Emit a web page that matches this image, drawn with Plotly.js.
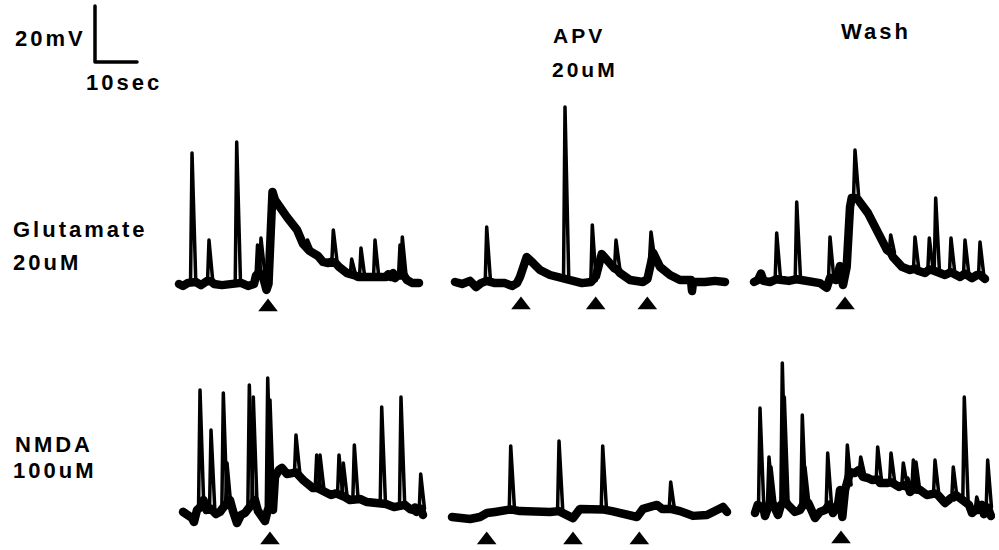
<!DOCTYPE html>
<html><head><meta charset="utf-8">
<script src="https://cdn.plot.ly/plotly-3.0.1.min.js"></script>
<style>
body{margin:0;background:#fff}
#chart{width:999px;height:550px}
.annotation-text{letter-spacing:3px}
.js-line{stroke-linejoin:round;stroke-linecap:round}
</style>
</head><body><div id="chart"></div>
<script>
// ---------- data: time (s) and membrane potential (mV, relative to rest) ----------
// Each recording = slow membrane potential (T, V) + action potentials (spike time, peak, base)

// Glutamate 20uM, control
const glutCtrlT = [0,0.95,2.14,3.1,4.05,5.24,6.67,7.62,8.33,10.24,
  12.14,13.33,14.17,14.76,16.43,17.86,18.33,19.05,20.0,20.83,
  21.31,21.79,22.26,22.86,23.81,25.71,28.10,29.52,31.07,31.9,
  33.1,34.29,35.48,36.31,37.26,38.1,40.0,41.67,42.62,43.93,
  45.95,48.1,49.29,49.83,50.36,50.95,51.43,52.14,53.57,54.29,
  55.48,57.14];
const glutCtrlV = [0,-0.7,0.4,0.7,0.7,-0.4,1.1,1.0,0,-0.4,
  0,0.7,1.0,0.4,-0.7,0,3.0,4.0,2.5,-2.1,
  0,24.6,32.9,30.0,27.5,23.9,19.3,14.3,11.8,11.1,
  10.0,7.9,7.5,8.0,7.5,6.1,3.9,3.2,2.5,2.5,
  2.5,2.5,2.5,3.5,2.5,3.9,2.1,3.0,3.0,1.4,
  0.4,0.4];
const glutCtrlSpikeT    = [3.10,7.14,13.74,18.69,19.52,30.6,36.74,41.12,43.33,46.67,52.62,53.17];
const glutCtrlSpikePeak = [46.8,15.7,50.7,13.9,16.4,15.7,19.3,8.9,12.9,15.7,13.9,16.8];
const glutCtrlSpikeBase = [0.7,1.0,0.7,3.0,4.0,12.5,8.0,3.5,2.5,2.5,3.0,3.0];
const glutCtrlStim = [21.2];

// Glutamate 20uM, with APV 20uM
const glutApvT = [0,1.67,3.57,5.0,6.19,7.55,9.52,11.9,13.57,14.76,
  15.48,17.07,18.57,20.24,22.62,24.29,26.19,28.1,30.24,32.38,
  33.0,33.57,34.93,36.43,37.86,38.69,39.29,41.67,44.76,45.83,
  46.55,47.2,48.81,51.19,53.57,55.24,56.19,56.43,56.67,59.52,
  61.9,64.29];
const glutApvV = [0,-0.7,0.4,-1.8,-0.4,0.4,-0.4,-0.4,-1.4,-0.4,
  1.8,8.9,6.8,4.3,2.5,1.8,1.0,0,-0.4,0,
  1.4,2.1,10.0,6.8,5.0,4.3,3.2,0.7,0,1.1,
  7.1,10.4,5.4,2.5,0.7,0.4,0.7,-3.2,0,0,
  0.4,0];
const glutApvSpikeT    = [7.55,26.19,32.69,38.33,46.67];
const glutApvSpikePeak = [19.6,62.5,20.4,15.0,17.9];
const glutApvSpikeBase = [0.4,1.0,0.5,4.8,8.0];
const glutApvStim = [15.71,33.5,45.79];

// Glutamate 20uM, wash
const glutWashT = [0,0.95,1.67,2.26,3.81,5.4,6.67,8.33,10.17,11.43,
  13.33,15.71,17.31,18.1,19.52,20.48,21.19,22.07,22.86,23.26,
  24.05,24.83,27.14,28.81,30.48,31.67,32.55,33.1,35.24,37.14,
  38.33,39.05,40.71,41.74,42.86,43.69,45.48,46.9,47.5,49.05,
  50.24,51.9,53.1,53.81,55.0];
const glutWashV = [0,0.7,3.0,0.4,0,1.0,0.7,0.4,1.0,0.7,
  -0.4,-0.4,-2.1,1.5,0.7,5.7,-1.1,5.4,26.8,30.0,
  30.0,29.3,24.6,19.6,15.0,11.4,10.5,8.9,5.4,4.3,
  4.8,4.0,3.2,4.5,4.0,3.6,2.5,3.5,3.0,1.8,
  3.0,1.4,2.5,2.5,1.1];
const glutWashSpikeT    = [5.4,10.17,18.1,24.05,32.55,38.33,41.74,43.26,46.9,50.24,53.81];
const glutWashSpikePeak = [17.5,28.6,16.1,47.1,16.8,16.1,15.7,30.0,15.7,15.0,14.3];
const glutWashSpikeBase = [1.5,1.5,1.5,30.0,10.5,4.8,4.5,3.8,3.5,3.0,2.5];
const glutWashStim = [21.67];

// NMDA 100uM, control
const nmdaCtrlT = [0,1.19,2.14,2.62,3.33,4.05,4.88,5.6,6.67,7.86,
  8.81,9.6,11.19,11.9,12.86,13.81,14.76,15.79,17.14,17.86,
  18.81,19.52,20.17,21.07,21.43,21.9,22.86,23.57,24.76,25.95,
  26.9,28.57,30.0,30.95,31.83,33.1,33.81,35.24,36.43,37.5,
  38.57,39.76,40.79,42.14,43.81,46.19,47.31,48.33,50.24,51.9,
  52.86,54.05,54.76,55.24,55.6,56.6,57.14];
const nmdaCtrlV = [0.4,-0.4,-1.8,-3.2,1.1,2.0,4.6,1.1,1.5,-0.4,
  0.4,2.0,4.6,0.7,-3.6,-0.7,0,2.0,4.6,0.7,
  -1.4,-2.9,1.0,2.0,1.1,12.9,15.4,16.1,13.9,13.9,
  14.5,11.8,10.4,8.9,9.0,8.0,7.1,6.4,7.0,6.5,
  5.7,4.6,5.0,5.0,3.9,3.6,3.5,3.2,2.1,2.5,
  2.9,1.4,1.1,2.0,0.4,1.5,-0.7];
const nmdaCtrlSpikeT    = [4.05,6.67,9.6,10.48,15.79,16.74,20.17,20.71,26.9,31.83,32.62,37.14,38.17,40.79,47.31,51.9,56.6];
const nmdaCtrlSpikePeak = [43.9,29.6,42.9,17.9,45.7,41.4,48.2,40.4,27.9,20.7,20.7,20.7,17.9,24.3,37.9,41.4,13.9];
const nmdaCtrlSpikeBase = [2.0,1.5,2.0,3.0,2.0,3.0,1.0,2.0,14.5,9.0,9.0,6.5,6.0,5.0,3.5,2.5,1.5];
const nmdaCtrlStim = [20.71];

// NMDA 100uM, with APV 20uM
const nmdaApvT = [0,1.9,4.29,6.67,8.33,10.24,12.62,13.98,16.19,19.76,
  23.33,25.48,27.31,28.81,30.48,32.86,35.88,38.1,41.67,44.05,
  45.48,48.81,50.0,52.07,54.29,57.38,60.71,62.86,64.52,65.48];
const nmdaApvV = [0,-0.4,-0.7,0,1.4,1.8,2.5,2.7,2.1,1.8,
  1.8,2.1,0.7,-0.4,2.9,2.9,2.7,2.1,0.7,0,
  2.9,4.3,2.9,2.9,2.1,0.4,0.7,2.1,3.6,1.8];
const nmdaApvSpikeT    = [13.98,25.48,35.88,52.07];
const nmdaApvSpikePeak = [25.4,27.1,25.4,12.5];
const nmdaApvSpikeBase = [2.7,2.1,2.7,2.9];
const nmdaApvStim = [8.26,28.81,44.6];

// NMDA 100uM, wash
const nmdaWashT = [0,0.64,1.19,1.98,2.38,3.1,3.57,4.36,4.76,5.48,
  6.19,7.31,7.86,9.52,10.71,11.9,12.69,13.57,14.29,15.48,
  16.67,17.74,18.57,19.76,20.24,20.79,21.43,22.62,23.81,24.76,
  25.71,26.9,27.86,29.21,29.76,31.43,32.38,33.1,34.29,35.31,
  35.71,36.36,36.9,37.69,39.29,40.95,42.86,43.57,45.24,46.67,
  47.21,47.86,49.29,49.83,50.95,51.67,52.38,52.79,53.21,53.98,
  54.52,55.4,56.19];
const nmdaWashV = [0,2.9,2.5,2.1,-1.1,3.0,4.0,3.0,1.1,-0.7,
  2.9,4.0,2.9,0.4,1.1,4.0,3.6,1.1,-1.8,0.4,
  1.1,3.0,0,2.9,8.2,-1.4,8.2,14.6,14.3,15.4,
  12.9,12.5,11.8,12.0,10.7,10.7,11.0,10.4,9.3,10.0,
  9.6,10.0,7.5,8.5,8.2,6.4,7.0,6.4,3.6,5.4,
  5.5,6.4,4.6,4.5,2.9,0,1.1,1.5,1.1,2.9,
  -0.4,2.0,-1.1];
const nmdaWashSpikeT    = [1.19,3.33,3.81,6.5,6.98,11.26,11.9,17.31,21.98,25.17,29.21,32.38,35.31,36.36,37.69,38.33,42.86,47.21,49.83,52.79,55.4];
const nmdaWashSpikePeak = [37.5,20.0,16.4,53.6,41.4,35.0,16.4,21.4,24.3,20.0,23.6,21.4,17.9,12.5,18.9,18.2,18.9,16.4,41.4,5.7,18.9];
const nmdaWashSpikeBase = [2.5,4.0,4.0,3.0,4.0,2.0,4.0,3.0,10.0,14.0,12.0,11.0,10.0,9.0,8.5,8.2,7.0,5.5,4.5,1.2,2.0];
const nmdaWashStim = [20.48];

// scale bar (10 s, 20 mV)
const scaleT = [0, 0, 10];
const scaleV = [20, 0, 0];

// labels
const rowLabels = [["Glutamate", "20uM"], ["NMDA", "100uM"]];
const colLabels = [["APV", "20uM"], ["Wash"]];
const scaleLabels = ["20mV", "10sec"];

// ---------- layout (pixel placement) ----------
const W = 999, H = 550, PX_S = 4.2, PX_MV = 2.8, PAD = 6;
const panels = [
  {t: glutCtrlT, v: glutCtrlV, st: glutCtrlSpikeT, sp: glutCtrlSpikePeak, sb: glutCtrlSpikeBase, stim: glutCtrlStim,
   left: 179, width: 245, base: 284, top: 100, bottom: 330, stimY: 307},
  {t: glutApvT, v: glutApvV, st: glutApvSpikeT, sp: glutApvSpikePeak, sb: glutApvSpikeBase, stim: glutApvStim,
   left: 455, width: 275, base: 282, top: 100, bottom: 330, stimY: 305},
  {t: glutWashT, v: glutWashV, st: glutWashSpikeT, sp: glutWashSpikePeak, sb: glutWashSpikeBase, stim: glutWashStim,
   left: 754, width: 240, base: 282, top: 100, bottom: 330, stimY: 305},
  {t: nmdaCtrlT, v: nmdaCtrlV, st: nmdaCtrlSpikeT, sp: nmdaCtrlSpikePeak, sb: nmdaCtrlSpikeBase, stim: nmdaCtrlStim,
   left: 183, width: 245, base: 513, top: 340, bottom: 550, stimY: 540},
  {t: nmdaApvT, v: nmdaApvV, st: nmdaApvSpikeT, sp: nmdaApvSpikePeak, sb: nmdaApvSpikeBase, stim: nmdaApvStim,
   left: 452, width: 280, base: 517, top: 340, bottom: 550, stimY: 540},
  {t: nmdaWashT, v: nmdaWashV, st: nmdaWashSpikeT, sp: nmdaWashSpikePeak, sb: nmdaWashSpikeBase, stim: nmdaWashStim,
   left: 755, width: 240, base: 513, top: 340, bottom: 550, stimY: 539}
];
const SPIKE_RISE = 0.35, SPIKE_FALL = 0.9; // seconds: drawn width of a spike's base

const data = [];
const layout = {
  width: W, height: H, margin: {l: 0, r: 0, t: 0, b: 0},
  paper_bgcolor: '#fff', plot_bgcolor: 'rgba(0,0,0,0)', showlegend: false,
  annotations: []
};
const hiddenAxis = {visible: false, showgrid: false, zeroline: false, fixedrange: true};

panels.forEach((p, i) => {
  const n = i + 1, sx = n === 1 ? '' : n;
  layout['xaxis' + sx] = Object.assign({}, hiddenAxis, {
    anchor: 'y' + sx,
    domain: [(p.left - PAD) / W, Math.min(1, (p.left + p.width) / W)],
    range: [-PAD / PX_S, p.width / PX_S]
  });
  layout['yaxis' + sx] = Object.assign({}, hiddenAxis, {
    anchor: 'x' + sx,
    domain: [1 - p.bottom / H, 1 - p.top / H],
    range: [-(p.bottom - p.base) / PX_MV, (p.base - p.top) / PX_MV]
  });
  // slow potential: thick noisy band
  data.push({x: p.t, y: p.v, xaxis: 'x' + sx, yaxis: 'y' + sx, mode: 'lines',
    line: {color: '#000', width: 8.5}, hoverinfo: 'skip'});
  // action potentials: thin strokes
  const sx2 = [], sy2 = [];
  p.st.forEach((t, k) => {
    sx2.push(t - SPIKE_RISE, t, t + SPIKE_FALL, null);
    sy2.push(p.sb[k], p.sp[k], p.sb[k], null);
  });
  data.push({x: sx2, y: sy2, xaxis: 'x' + sx, yaxis: 'y' + sx, mode: 'lines',
    connectgaps: false, line: {color: '#000', width: 3.5}, hoverinfo: 'skip'});
  // stimulus markers
  const sy = -(p.stimY - p.base) / PX_MV;
  data.push({x: p.stim, y: p.stim.map(() => sy), xaxis: 'x' + sx, yaxis: 'y' + sx,
    mode: 'markers', cliponaxis: false, hoverinfo: 'skip',
    marker: {symbol: 'triangle-up', size: 17, color: '#000', line: {width: 0}}});
});

// scale bar subplot
layout.xaxis7 = Object.assign({}, hiddenAxis, {anchor: 'y7',
  domain: [(95 - PX_S) / W, (137 + PX_S) / W], range: [-1, 11]});
layout.yaxis7 = Object.assign({}, hiddenAxis, {anchor: 'x7',
  domain: [1 - (62 + PX_MV) / H, 1 - (6 - PX_MV) / H], range: [-1, 21]});
data.push({x: scaleT, y: scaleV, xaxis: 'x7', yaxis: 'y7', mode: 'lines',
  line: {color: '#000', width: 3.5}, hoverinfo: 'skip'});

const font = {family: 'Liberation Sans, Arial, sans-serif', size: 22, color: '#000', weight: 'bold'};
function label(text, xpx, ypx, size) {
  layout.annotations.push({text: text, xref: 'paper', yref: 'paper', x: xpx / W, y: 1 - ypx / H,
    xanchor: 'left', yanchor: 'middle', showarrow: false,
    font: Object.assign({}, font, size ? {size: size} : {})});
}
label(scaleLabels[0], 13, 38);
label(scaleLabels[1], 84, 83);
label(colLabels[0][0], 551, 36, 21);
label(colLabels[0][1], 550, 69, 21);
label(colLabels[1][0], 839, 31);
label(rowLabels[0][0], 11, 229);
label(rowLabels[0][1], 11, 262);
label(rowLabels[1][0], 13, 444);
label(rowLabels[1][1], 11, 470);

Plotly.newPlot('chart', data, layout, {staticPlot: true, displayModeBar: false});
</script>
</body></html>
